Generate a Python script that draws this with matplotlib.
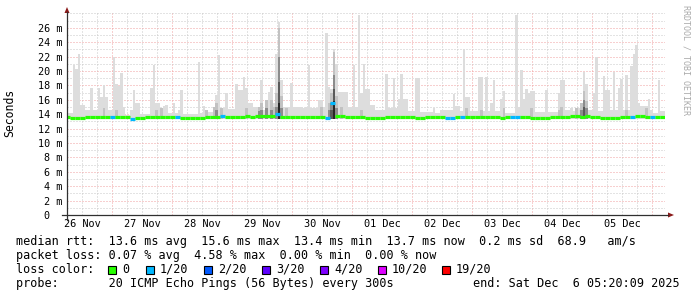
import numpy as np
import pandas as pd
import matplotlib
matplotlib.use("Agg")
import matplotlib.pyplot as plt
import matplotlib.dates as mdates
from matplotlib.patches import Rectangle, Polygon
from matplotlib.lines import Line2D

# ---- data, 26 Nov 05:20 -> 06 Dec 05:20 ----
start = pd.Timestamp("2025-11-26 05:20")
end = pd.Timestamp("2025-12-06 05:20")
smoke_hours = 1      # smoke columns, 1 h each
median_hours = 2     # median samples, 2 h each

# max ping per hour (ms) -> light smoke
smoke_max = [
    14.2, 14.2, 14.2, 20.8, 20.3, 22.4, 15.3, 15.3, 14.6, 14.6,
    17.6, 14.6, 14.6, 17.6, 16.4, 18.0, 16.4, 14.6, 14.6, 22.0,
    18.2, 17.9, 19.7, 15.0, 13.9, 13.9, 14.6, 17.3, 15.6, 15.6,
    14.0, 14.0, 14.0, 14.0, 17.6, 20.8, 15.6, 15.6, 14.6, 15.2,
    15.3, 14.2, 14.2, 15.5, 14.2, 14.6, 17.4, 14.0, 14.0, 14.0,
    14.0, 14.0, 14.0, 21.2, 14.2, 15.1, 14.3, 14.3, 14.3, 14.7,
    16.7, 22.2, 14.8, 14.8, 17.0, 14.7, 14.7, 14.7, 18.2, 17.4,
    17.4, 19.2, 17.6, 15.5, 15.5, 15.0, 15.0, 14.6, 18.8, 14.6,
    14.6, 17.1, 17.8, 15.5, 22.4, 26.8, 18.8, 15.0, 15.0, 15.0,
    18.3, 15.0, 15.0, 15.0, 15.0, 14.8, 15.0, 20.9, 14.8, 14.8,
    14.8, 16.0, 16.0, 15.0, 25.3, 17.8, 17.5, 23.0, 21.0, 17.1,
    17.1, 17.1, 17.1, 15.0, 15.0, 20.8, 15.0, 27.8, 17.0, 21.0,
    17.5, 17.5, 15.3, 15.3, 14.6, 14.6, 14.6, 14.6, 19.6, 14.8,
    14.8, 19.0, 14.8, 16.1, 19.6, 16.1, 16.1, 14.5, 14.5, 14.5,
    19.0, 19.0, 14.3, 14.3, 14.3, 14.3, 14.3, 14.9, 14.2, 14.2,
    14.6, 14.6, 14.6, 14.6, 14.6, 16.8, 15.2, 15.2, 14.4, 23.0,
    16.4, 16.4, 14.4, 14.4, 14.4, 19.1, 19.1, 14.4, 19.2, 14.4,
    15.6, 18.8, 14.4, 14.4, 16.1, 17.2, 14.2, 14.2, 14.2, 14.2,
    27.8, 15.0, 20.1, 16.1, 17.5, 16.9, 17.2, 17.2, 14.3, 14.3,
    14.3, 14.3, 17.3, 14.3, 14.3, 14.3, 14.3, 16.9, 18.7, 18.7,
    14.6, 14.6, 14.9, 14.4, 14.9, 14.9, 14.4, 19.8, 18.2, 14.6,
    14.6, 16.9, 21.9, 14.4, 14.4, 19.3, 17.3, 17.3, 14.6, 19.8,
    14.6, 17.6, 18.9, 14.6, 19.4, 14.6, 20.7, 22.4, 23.6, 15.6,
    15.1, 15.1, 15.1, 16.1, 14.6, 14.2, 14.2, 18.8, 14.4, 14.4,
]

# denser smoke: hour index -> tops of darker layers
smoke_dense = {
    15: (14.8,), 20: (14.6,), 36: (14.6,), 38: (14.8,), 56: (14.6,),
    59: (15.0,), 60: (15.6, 14.6), 62: (14.8,), 72: (14.8,),
    77: (15.0, 14.4), 78: (15.6, 14.6), 80: (16.0, 14.8), 82: (16.0, 14.6),
    83: (15.0,), 84: (17.0, 15.0), 85: (26.0, 22.0, 18.5, 15.5), 86: (16.5, 14.8),
    88: (14.8,), 102: (15.0,), 105: (15.5, 14.6), 106: (17.0, 15.5, 14.6),
    107: (22.6, 19.5, 17.5, 15.9), 108: (16.5, 14.8), 110: (15.0,), 118: (14.6,),
    160: (14.8,), 166: (14.6,), 175: (14.8,), 186: (14.8,), 197: (14.6,),
    198: (15.0,), 204: (14.8,), 206: (15.5, 14.6), 207: (17.2, 16.0, 15.0),
    208: (15.8, 14.8), 224: (14.6,), 232: (14.8,),
}

# median rtt per 2 h (ms)
median_rtt = [
    13.6, 13.5, 13.5, 13.5, 13.55, 13.6, 13.65, 13.65, 13.6, 13.6,
    13.65, 13.6, 13.55, 13.4, 13.5, 13.5, 13.55, 13.6, 13.65, 13.65,
    13.6, 13.6, 13.6, 13.5, 13.45, 13.45, 13.5, 13.5, 13.55, 13.6,
    13.65, 13.7, 13.6, 13.6, 13.65, 13.65, 13.7, 13.65, 13.7, 13.7,
    13.7, 13.75, 14.0, 13.6, 13.6, 13.55, 13.6, 13.6, 13.55, 13.6,
    13.6, 13.6, 13.5, 15.6, 13.75, 13.7, 13.65, 13.6, 13.6, 13.55,
    13.5, 13.45, 13.45, 13.5, 13.55, 13.6, 13.6, 13.55, 13.6, 13.55,
    13.5, 13.5, 13.55, 13.6, 13.6, 13.55, 13.5, 13.5, 13.6, 13.65,
    13.6, 13.6, 13.55, 13.55, 13.6, 13.6, 13.55, 13.5, 13.55, 13.6,
    13.55, 13.6, 13.6, 13.5, 13.45, 13.45, 13.5, 13.55, 13.6, 13.65,
    13.65, 13.7, 13.7, 13.65, 13.7, 13.6, 13.55, 13.5, 13.5, 13.45,
    13.5, 13.55, 13.6, 13.65, 13.7, 13.7, 13.65, 13.6, 13.6, 13.6,
]

# median samples with 1/20 packets lost
loss_bins = [9, 13, 22, 31, 42, 52, 53, 76, 77, 79, 89, 90, 113, 117]

loss_labels = ["0", "1/20", "2/20", "3/20", "4/20", "10/20", "19/20"]
loss_colors = ["#26ff00", "#00b8ff", "#0059ff", "#5e00ff", "#7e00ff", "#dd00ff", "#ff0000"]
smoke_colors = ["#dddddd", "#c2c2c2", "#8c8c8c", "#5a5a5a", "#262626"]

day_labels = ["26 Nov", "27 Nov", "28 Nov", "29 Nov", "30 Nov",
              "01 Dec", "02 Dec", "03 Dec", "04 Dec", "05 Dec"]

legend_rows = [
    "median rtt:  13.6 ms avg  15.6 ms max  13.4 ms min  13.7 ms now  0.2 ms sd  68.9   am/s",
    "packet loss: 0.07 % avg  4.58 % max  0.00 % min  0.00 % now",
    "loss color:",
    "probe:       20 ICMP Echo Pings (56 Bytes) every 300s",
]
end_text = "end: Sat Dec  6 05:20:09 2025"

# ---- figure ----
W, H = 697, 297
MONO = "DejaVu Sans Mono"
fig = plt.figure(figsize=(W / 100, H / 100), dpi=100)
fig.patch.set_facecolor("white")

px_per_h = 2.5
ax_left, ax_right, ax_bot, ax_top = 67, 665.3, 215, 13
ax = fig.add_axes([ax_left / W, 1 - ax_bot / H, (ax_right - ax_left) / W, (ax_bot - ax_top) / H])
ax.set_facecolor("white")
for s in ax.spines.values():
    s.set_visible(False)

t0 = mdates.date2num(start)
tend = mdates.date2num(end)
xl0 = t0 + (ax_left - (ax_right - 600)) / px_per_h / 24
ax.set_xlim(xl0, tend)
ax.set_ylim(0, (ax_bot - ax_top) / 7.2)

ts = mdates.date2num(pd.date_range(start, periods=len(smoke_max), freq=f"{smoke_hours}h"))
ws = smoke_hours / 24
tm = mdates.date2num(pd.date_range(start, periods=len(median_rtt), freq=f"{median_hours}h"))
wm = median_hours / 24
base = 13.4

# grid
for d in pd.date_range("2025-11-26 06:00", end, freq="6h"):
    c = "#f0a0a0" if d.hour == 0 else "#c8c8c8"
    ax.axvline(mdates.date2num(d), color=c, lw=0.72, ls=(0, (1, 2)), zorder=0)
for v in range(1, 29):
    c = "#f0a0a0" if (v % 2 == 0 and v <= 26) else "#c8c8c8"
    ax.axhline(v, color=c, lw=0.72, ls=(0, (1, 2)), zorder=0)

# smoke
tops = np.array(smoke_max)
ax.bar(ts, tops - base, bottom=base, width=ws, align="edge", color=smoke_colors[0], lw=0, zorder=1)
for b, layers in smoke_dense.items():
    for k, top in enumerate(layers):
        ax.bar(ts[b], top - base, bottom=base, width=ws, align="edge",
               color=smoke_colors[k + 1], lw=0, zorder=2 + k)

# median line coloured by loss
for i, m in enumerate(median_rtt):
    c = loss_colors[1] if i in loss_bins else loss_colors[0]
    ax.hlines(m, tm[i], tm[i] + wm, color=c, lw=2.3, capstyle="butt", zorder=10)

# ticks
noons = [mdates.date2num(pd.Timestamp("2025-11-26 12:00") + pd.Timedelta(days=k)) for k in range(len(day_labels))]
ax.set_xticks(noons)
ax.set_xticklabels(day_labels, fontfamily=MONO, fontsize=7.4)
yt = list(range(0, 27, 2))
ax.set_yticks(yt)
ax.set_yticklabels(["0  " if v == 0 else f"{v} m" for v in yt], fontfamily=MONO, fontsize=7.3)
ax.tick_params(length=0, pad=3.2)
ax.tick_params(axis="x", pad=3.0)


def fx(x):
    return x / W


def fy(y):
    return 1 - y / H


# axes lines and arrows
fig.add_artist(Line2D([fx(62), fx(668)], [fy(215), fy(215)], color="#303030", lw=0.9))
fig.add_artist(Line2D([fx(67), fx(67)], [fy(220), fy(12)], color="#303030", lw=0.9))
fig.add_artist(Polygon([[fx(668), fy(212.5)], [fx(674), fy(215)], [fx(668), fy(217.5)]],
                       closed=True, color="#8b1a1a", lw=0))
fig.add_artist(Polygon([[fx(64.5), fy(13)], [fx(67), fy(7)], [fx(69.5), fy(13)]],
                       closed=True, color="#8b1a1a", lw=0))

fig.text(fx(10), fy(113), "Seconds", rotation=90, ha="center", va="center",
         fontfamily=MONO, fontsize=8.3, color="black")
fig.text(fx(686), fy(5), "RRDTOOL / TOBI OETIKER", rotation=270, ha="center", va="top",
         fontfamily=MONO, fontsize=6.0, color="#aaaaaa")

# legend
row_y = [241, 255.5, 269.5, 283.5]
for s, y in zip(legend_rows, row_y):
    fig.text(fx(16), fy(y), s, ha="left", va="center", fontfamily=MONO, fontsize=8.5, color="black")
fig.text(fx(680), fy(row_y[3]), end_text, ha="right", va="center", fontfamily=MONO, fontsize=8.5)

box_x = [108, 146, 204, 262, 320, 378, 442]
for bx, lab, col in zip(box_x, loss_labels, loss_colors):
    fig.add_artist(Rectangle((fx(bx), fy(row_y[2] + 4)), 8 / W, 8 / H, facecolor=col,
                             edgecolor="black", lw=0.8))
    fig.text(fx(bx + 14), fy(row_y[2]), lab, ha="left", va="center", fontfamily=MONO, fontsize=8.5)

fig.savefig("out.png", dpi=100, facecolor="white")
